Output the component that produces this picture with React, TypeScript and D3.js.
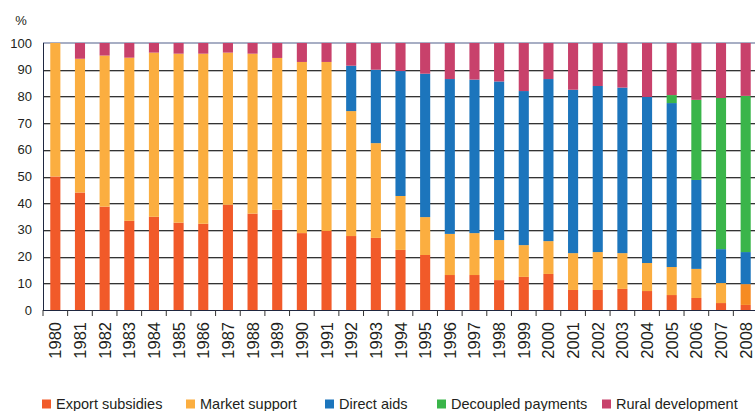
import React from 'react';
import * as d3 from 'd3';

const YEARS = d3.range(1980, 2009).map(String);

const EXPORT_SUBSIDIES = [50, 44, 38.7, 33.4, 34.9, 32.7, 32.3, 39.4, 36.1, 37.5, 28.8, 29.6, 27.7, 27.0, 22.5, 20.6, 13.1, 13.1, 11.2, 12.4, 13.5, 7.5, 7.5, 7.9, 7.1, 5.6, 4.5, 2.6, 1.9];
const MARKET_SUPPORT = [50, 50.1, 56.6, 61.1, 61.5, 63.3, 63.7, 57.0, 59.9, 56.9, 64.1, 63.3, 46.8, 35.5, 20.2, 14.2, 15.4, 15.7, 15.0, 11.9, 12.3, 13.8, 14.2, 13.4, 10.5, 10.5, 10.9, 7.5, 7.8];
const DIRECT_AIDS = [0, 0, 0, 0, 0, 0, 0, 0, 0, 0, 0, 0, 17.0, 27.5, 46.8, 53.7, 58.0, 57.5, 59.4, 57.7, 60.7, 61.2, 62.2, 62.0, 62.2, 61.4, 33.3, 12.7, 12.0];
const DECOUPLED = [0, 0, 0, 0, 0, 0, 0, 0, 0, 0, 0, 0, 0, 0, 0, 0, 0, 0, 0, 0, 0, 0, 0, 0, 0, 3.0, 30.0, 56.6, 58.5];

const SERIES = ['Export subsidies', 'Market support', 'Direct aids', 'Decoupled payments', 'Rural development'];
const COLORS = ['#F15A29', '#FBAE40', '#1C75BC', '#3AB54A', '#C8416B'];
const Y_TICKS = [0, 10, 20, 30, 40, 50, 60, 70, 80, 90, 100];

type Row = { year: string; [k: string]: number | string };

const rows: Row[] = YEARS.map((year, i) => {
  const e = EXPORT_SUBSIDIES[i], m = MARKET_SUPPORT[i], d = DIRECT_AIDS[i], c = DECOUPLED[i];
  return {
    year,
    'Export subsidies': e,
    'Market support': m,
    'Direct aids': d,
    'Decoupled payments': c,
    'Rural development': Math.max(0, 100 - e - m - d - c),
  };
});

const LEGEND_X = [42, 186, 325, 437, 602];
const FONT = 'Arial, "Liberation Sans", sans-serif';

export default function App() {
  const left = 43, right = 758, top = 43, bottom = 310;
  const x = d3.scaleBand<string>().domain(YEARS).range([left, right]).paddingInner(0.59).paddingOuter(0.295);
  const y = d3.scaleLinear().domain([0, 100]).range([bottom, top]);
  const stacked = d3.stack<Row>().keys(SERIES).value((d, k) => d[k] as number)(rows);
  const step = x.step();
  const tickXs = YEARS.map(yr => (x(yr) as number) - (step - x.bandwidth()) / 2).concat([right]);

  return (
    <svg width={755} height={411} style={{ position: 'absolute', left: 0, top: 0, background: '#fff' }}>
      {/* grid */}
      {Y_TICKS.filter(t => t > 0 && t < 100).map(t => (
        <g key={t}>
          <line x1={left} x2={right} y1={Math.round(y(t)) + 0.5} y2={Math.round(y(t)) + 0.5} stroke="#333" strokeWidth={1} />
          <line x1={left} x2={right} y1={Math.round(y(t)) + 1.5} y2={Math.round(y(t)) + 1.5} stroke="#bdbdbd" strokeWidth={1} />
        </g>
      ))}
      <line x1={left} x2={right} y1={y(100)} y2={y(100)} stroke="#8a93b0" strokeWidth={1.5} />

      {/* bars */}
      {stacked.map((s, si) => (
        <g key={s.key} fill={COLORS[si]}>
          {s.map(d => (
            d[1] - d[0] > 0 ? (
              <rect
                key={d.data.year}
                x={x(d.data.year)}
                width={x.bandwidth()}
                y={y(d[1])}
                height={y(d[0]) - y(d[1])}
                fill={si === 1 && d.data.year === '2008' ? '#F68B22' : undefined}
              />
            ) : null
          ))}
        </g>
      ))}

      {/* axes */}
      <line x1={left + 0.5} x2={left + 0.5} y1={top} y2={bottom} stroke="#1f2740" strokeWidth={1} />
      <line x1={left} x2={right} y1={bottom + 0.5} y2={bottom + 0.5} stroke="#1f2740" strokeWidth={1.2} />
      {tickXs.map((tx, i) => (
        <line key={i} x1={tx} x2={tx} y1={bottom} y2={bottom + 6} stroke="#333" strokeWidth={1} />
      ))}

      {/* y labels */}
      <g fontFamily={FONT} fontSize={13} fill="#231F20">
        {Y_TICKS.map(t => (
          <text key={t} x={32} y={y(t)} textAnchor="end" dominantBaseline="central">{t}</text>
        ))}
        <text x={21} y={20} textAnchor="middle" dominantBaseline="central">%</text>
      </g>

      {/* x labels */}
      <g fontFamily={FONT} fontSize={16.5} fill="#231F20">
        {YEARS.map(yr => {
          const cx = (x(yr) as number) + x.bandwidth() / 2;
          return (
            <text key={yr} transform={`translate(${cx},322) rotate(-90)`} textAnchor="end" dominantBaseline="central">{yr}</text>
          );
        })}
      </g>

      {/* legend */}
      <g fontFamily={FONT} fontSize={14.5} fill="#231F20">
        {SERIES.map((s, i) => (
          <g key={s} transform={`translate(${LEGEND_X[i]},404)`}>
            <rect x={0} y={-4.5} width={9} height={9} fill={COLORS[i]} />
            <text x={14} y={0} dominantBaseline="central">{s}</text>
          </g>
        ))}
      </g>
    </svg>
  );
}
